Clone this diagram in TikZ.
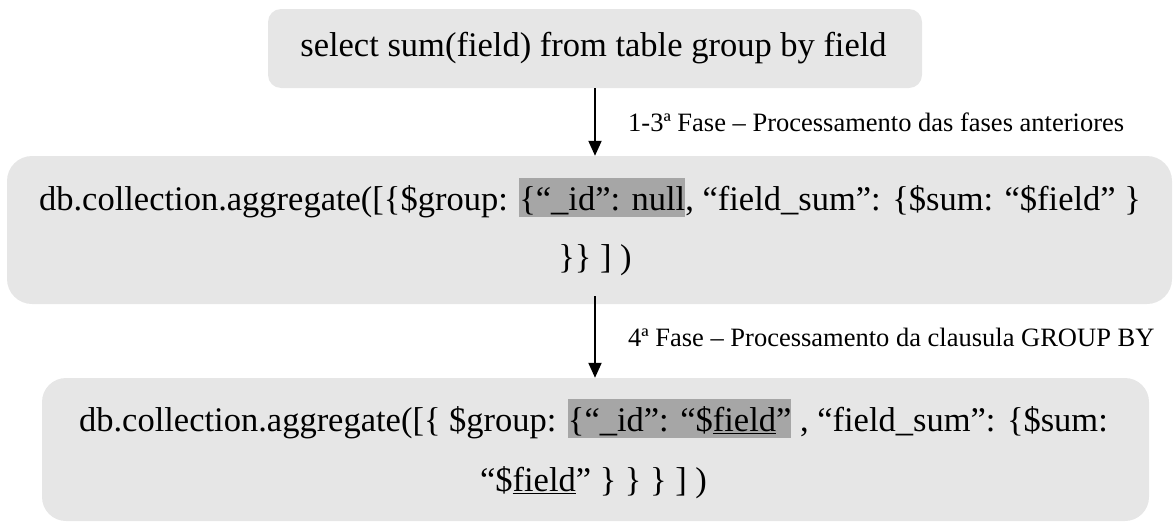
\documentclass[tikz,border=0pt]{standalone}
\usepackage{fontspec}
\setmainfont{Liberation Serif}[Ligatures=CommonOff]
\usetikzlibrary{arrows.meta}
\definecolor{boxgray}{HTML}{E6E6E6}
\definecolor{hlgray}{HTML}{A6A6A6}
% grey text highlight
\newcommand\hlt[1]{{\setlength{\fboxsep}{0pt}\colorbox{hlgray}{\rule[-0.2em]{0pt}{1.12em}#1}}}
% thin underline just below the baseline
\newsavebox\ulbox
\newcommand\ulf[1]{\sbox\ulbox{#1}\rlap{\rule[-0.1em]{\wd\ulbox}{0.05em}}\usebox\ulbox}
\begin{document}
\begin{tikzpicture}[x=1pt,y=-1pt,
  box/.style={fill=boxgray, draw=none, inner sep=0pt},
  code/.style={font=\fontsize{34.5}{41}\selectfont, inner sep=0pt, anchor=base},
  phase/.style={font=\fontsize{26.5}{32}\selectfont, inner sep=0pt, anchor=base west},
  flow/.style={line width=2pt, -{Triangle[length=15pt,width=13pt]}}]
\useasboundingbox (0,0) rectangle (1174,525);

% boxes
\node[box, rounded corners=13, minimum width=654, minimum height=79] (b1) at (595,48.5) {};
\node[box, rounded corners=25, minimum width=1165, minimum height=148] (b2) at (589.5,230) {};
\node[box, rounded corners=24, minimum width=1107, minimum height=143] (b3) at (595.5,449.5) {};

% texts
\node[code] (t1) at (593.5,56) {select sum(field) from table group by field};
\node[code] (t2a) at (590,210) {db.collection.aggregate([\{\$group: \hlt{\{“\_id”: null}, “field\_sum”: \{\$sum: “\$field” \}};
\node[code] (t2b) at (595,268) {\}\} ] )};
\node[code] (t3a) at (593.5,431) {db.collection.aggregate([\{ \$group: \hlt{\{“\_id”: “\$\ulf{field}”} , “field\_sum”: \{\$sum:};
\node[code] (t3b) at (593.5,491) {“\$\ulf{field}” \} \} \} ] )};

% connectors
\coordinate (a2s) at ([yshift=8pt]b2.south -| b1.south);
\draw[flow] (b1.south) -- (b1.south |- b2.north);
\draw[flow] (a2s) -- (a2s |- b3.north);

% phase labels
\node[phase] (p1) at (628,131) {1-3ª Fase – Processamento das fases anteriores};
\node[phase] (p2) at (628,346) {4ª Fase – Processamento da clausula GROUP BY};
\end{tikzpicture}
\end{document}
